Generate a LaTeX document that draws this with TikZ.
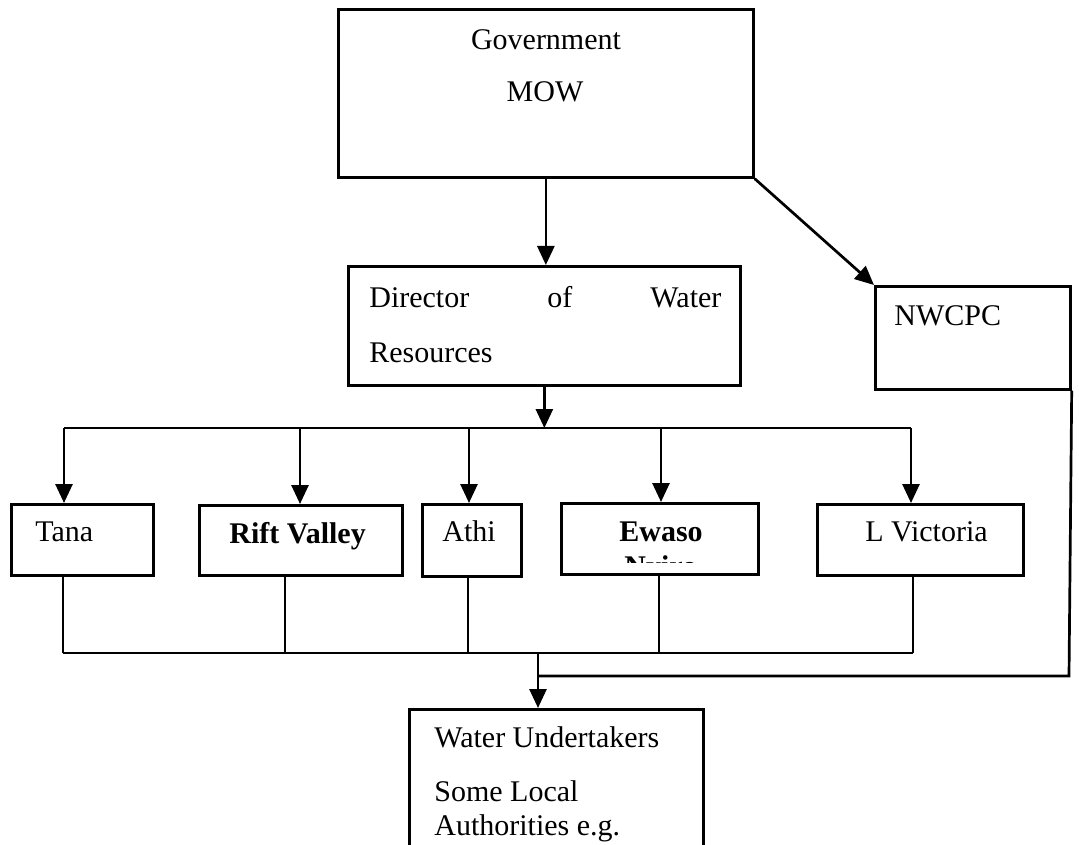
\documentclass[tikz,border=0pt]{standalone}
\usepackage{fontspec}
\setmainfont{Liberation Serif}
\usetikzlibrary{arrows.meta}
\begin{document}
\begin{tikzpicture}[x=1pt,y=-1pt,line width=2.7pt,
  box/.style={draw,line width=2.7pt,inner sep=0pt,anchor=north west},
  lbl/.style={anchor=base west,inner sep=0pt,font=\fontsize{30}{34}\selectfont},
  lblc/.style={anchor=base,inner sep=0pt,font=\fontsize{30}{34}\selectfont},
  lblb/.style={anchor=base west,inner sep=0pt,font=\fontsize{30}{34}\selectfont\bfseries},
  arr/.style={-{Triangle[length=19pt,width=17pt]}}]
\clip (0,0) rectangle (1079,845);
\fill[white] (0,0) rectangle (1079,845);
% boxes
\node[box,minimum width=415pt,minimum height=168pt] (gov) at (337,8) {};
\node[box,minimum width=392pt,minimum height=119pt] (dir) at (347,265) {};
\node[box,minimum width=195pt,minimum height=103pt] (nw) at (874,285) {};
\node[box,minimum width=142pt,minimum height=71pt] (tana) at (10,503) {};
\node[box,minimum width=203pt,minimum height=70pt] (rift) at (198,504) {};
\node[box,minimum width=99pt,minimum height=72pt] (athi) at (421,503) {};
\node[box,minimum width=197pt,minimum height=71pt] (ewaso) at (560,502) {};
\node[box,minimum width=206pt,minimum height=71pt] (lvic) at (816,503) {};
\node[box,minimum width=294pt,minimum height=220pt] (wu) at (408,708) {};
% texts
\node[lblc] (govt) at (546,50) {Government};
\node[lblc] (mowt) at (545,102) {MOW};
\node[lbl] (dirt1) at (368,307) {\makebox[352pt][l]{Director\hfill of\hfill Water}};
\node[lbl] (dirt2) at (368,362) {Resources};
\node[lbl] (nwt) at (893,325) {NWCPC};
\node[lbl] (tanat) at (34,541) {Tana};
\node[lblb] (riftt) at (228,543) {Rift Valley};
\node[lbl] (athit) at (441,541) {Athi};
\node[lblb] (ewasot) at (618,541) {Ewaso};
\begin{scope}
\clip (562,546) rectangle (755,562);
\node[lblb] (nyirot) at (623,576) {Nyiro};
\end{scope}
\node[lbl] (lvict) at (864,541) {L Victoria};
\node[lbl] (wut1) at (433,747) {Water Undertakers};
\node[lbl] (wut2) at (433,801) {Some Local};
\node[lbl] (wut3) at (433,835) {Authorities e.g.};
% connectors from government
\draw[arr] (gov.south) -- (gov.south |- dir.north);
\draw[arr] (gov.south east) -- (nw.north west);
% upper bus
\coordinate (tL) at (64,428);
\coordinate (tRift) at (300,428);
\coordinate (tAthi) at (469,428);
\coordinate (tEw) at (661,428);
\coordinate (tR) at (911,428);
\draw[arr] (dir.south) -- (dir.south |- tL);
\draw (tL) -- (tR);
\draw[arr] (tL) -- (tL |- tana.north);
\draw[arr] (tRift) -- (tRift |- rift.north);
\draw[arr] (tAthi) -- (tAthi |- athi.north);
\draw[arr] (tEw) -- (tEw |- ewaso.north);
\draw[arr] (tR) -- (tR |- lvic.north);
% lower bus
\coordinate (lL) at (63,653);
\coordinate (lRift) at (285,653);
\coordinate (lAthi) at (468,653);
\coordinate (lEw) at (659,653);
\coordinate (lR) at (913,653);
\coordinate (lJ) at (538,653);
\draw (lL |- tana.south) -- (lL);
\draw (lRift |- rift.south) -- (lRift);
\draw (lAthi |- athi.south) -- (lAthi);
\draw (lEw |- ewaso.south) -- (lEw);
\draw (lR |- lvic.south) -- (lR);
\draw (lL) -- (lR);
\draw[arr] (lJ) -- (lJ |- wu.north);
% return from NWCPC
\coordinate (rC) at (1069,676);
\draw (nw.south east) -- (rC) -- (lJ |- rC);
\end{tikzpicture}
\end{document}
